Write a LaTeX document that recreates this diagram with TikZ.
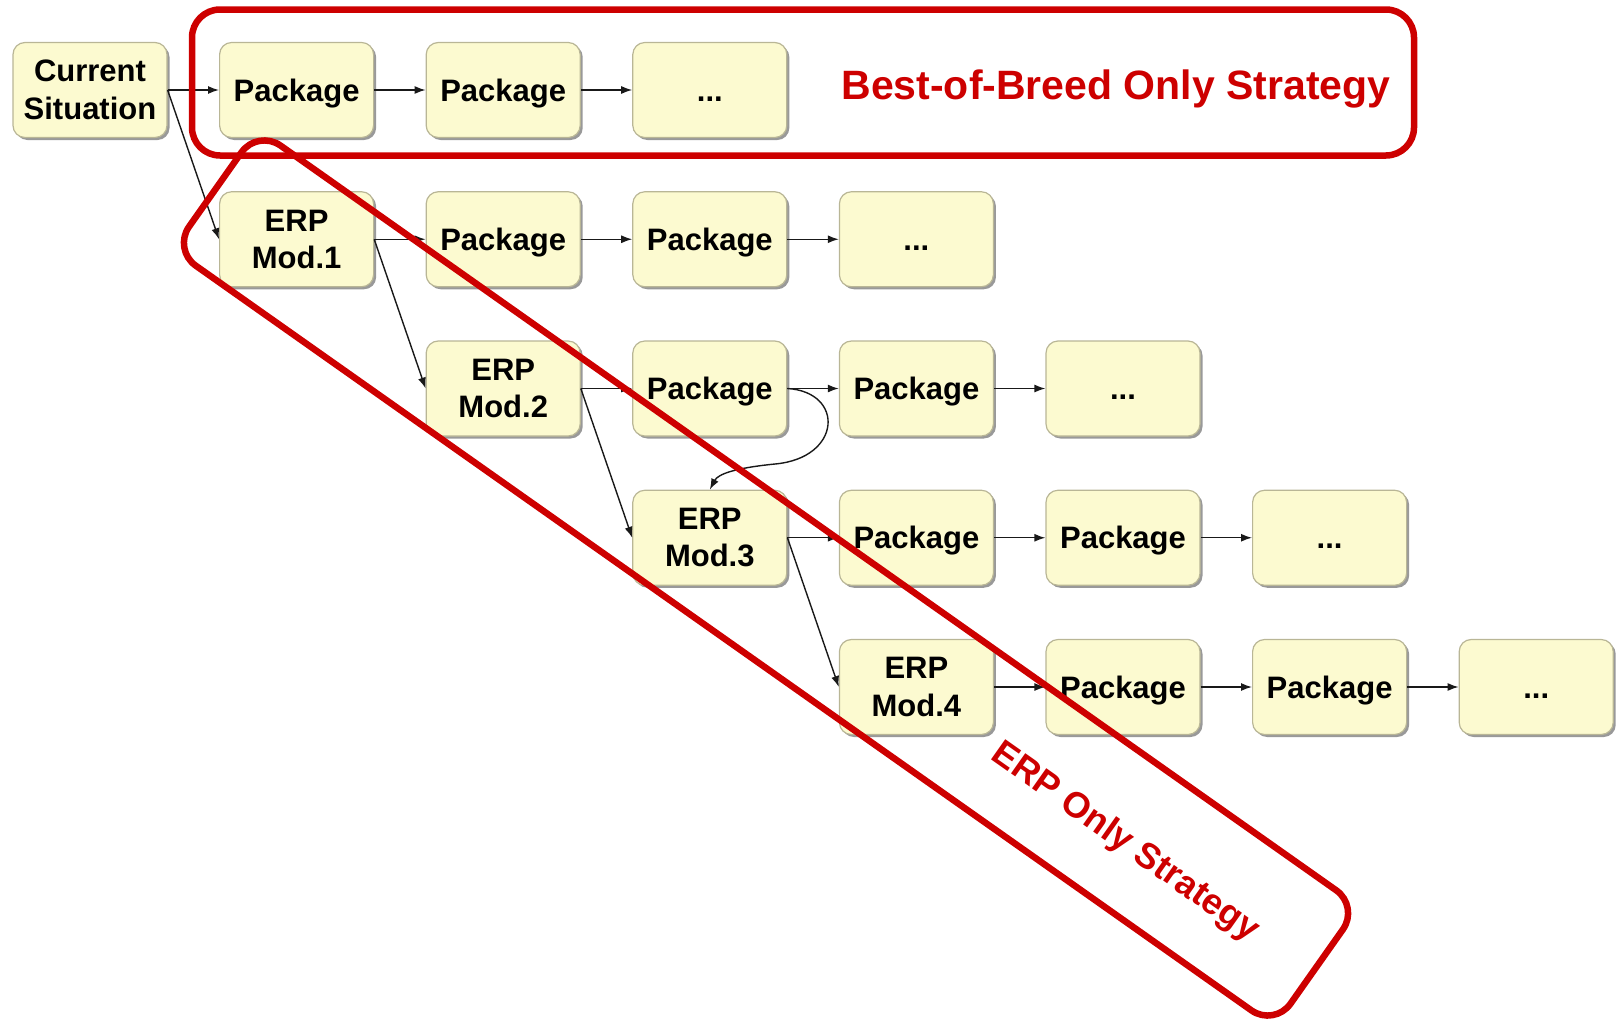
\documentclass[tikz,border=0pt]{standalone}
\usepackage{fontspec}
\setmainfont{Liberation Sans}
\usetikzlibrary{arrows.meta,shadows}
\definecolor{boxfill}{RGB}{252,250,208}
\definecolor{boxline}{RGB}{185,182,150}
\definecolor{stratred}{RGB}{205,0,0}
\begin{document}
\begin{tikzpicture}[x=1pt,y=-1pt,
  box/.style={draw=boxline, line width=1.2pt, fill=boxfill, rounded corners=12pt,
    minimum width=154pt, minimum height=95pt, inner sep=0pt,
    font=\bfseries\fontsize{31}{37.5}\selectfont,
    drop shadow={shadow xshift=2.5pt, shadow yshift=-2.5pt, opacity=0.4, fill=black}},
  one/.style={box, text height=28pt, text depth=6pt},
  two/.style={box, align=center},
  arr/.style={draw=black!90, line width=1.4pt, -{Latex[length=11pt,width=8pt]}},
  strat/.style={draw=stratred, line width=6.5pt, rounded corners=28pt, inner sep=0pt},
  stratlabel/.style={text=stratred, inner sep=0pt}]
\useasboundingbox (0,0) rectangle (1619,1020);

% row 0
\node[two] (cur) at (90,90) {Current\\Situation};
\node[one] (p01) at (296.6,90) {Package};
\node[one] (p02) at (503.2,90) {Package};
\node[one] (d03) at (709.8,90) {...};
% row 1
\node[two] (e1) at (296.6,239.25) {ERP\\Mod.1};
\node[one] (p12) at (503.2,239.25) {Package};
\node[one] (p13) at (709.8,239.25) {Package};
\node[one] (d14) at (916.4,239.25) {...};
% row 2
\node[two] (e2) at (503.2,388.5) {ERP\\Mod.2};
\node[one] (p23) at (709.8,388.5) {Package};
\node[one] (p24) at (916.4,388.5) {Package};
\node[one] (d25) at (1123,388.5) {...};
% row 3
\node[two] (e3) at (709.8,537.75) {ERP\\Mod.3};
\node[one] (p34) at (916.4,537.75) {Package};
\node[one] (p35) at (1123,537.75) {Package};
\node[one] (d36) at (1329.6,537.75) {...};
% row 4
\node[two] (e4) at (916.4,687) {ERP\\Mod.4};
\node[one] (p45) at (1123,687) {Package};
\node[one] (p46) at (1329.6,687) {Package};
\node[one] (d47) at (1536.2,687) {...};

% arrows
\draw[arr] (cur.east) -- (p01.west);
\draw[arr] (p01.east) -- (p02.west);
\draw[arr] (p02.east) -- (d03.west);
\draw[arr] (cur.east) -- (e1.west);

\draw[arr] (e1.east) -- (p12.west);
\draw[arr] (p12.east) -- (p13.west);
\draw[arr] (p13.east) -- (d14.west);
\draw[arr] (e1.east) -- (e2.west);

\draw[arr] (e2.east) -- (p23.west);
\draw[arr] (p23.east) -- (p24.west);
\draw[arr] (p24.east) -- (d25.west);
\draw[arr] (e2.east) -- (e3.west);
\draw[arr] (p23.east) .. controls (845,392) and (842,458) .. (775,464)
                      .. controls (735,468) and (718,474) .. (e3.north);

\draw[arr] (e3.east) -- (p34.west);
\draw[arr] (p34.east) -- (p35.west);
\draw[arr] (p35.east) -- (d36.west);
\draw[arr] (e3.east) -- (e4.west);

\draw[arr] (e4.east) -- (p45.west);
\draw[arr] (p45.east) -- (p46.west);
\draw[arr] (p46.east) -- (d47.west);

% strategy frames
\node[strat, minimum width=1222pt, minimum height=146pt] (bobbox) at (803,82.5) {};
\node[strat, minimum width=1348pt, minimum height=147pt, rotate=-35.2] (erpbox) at (766,578) {};
\node[stratlabel, anchor=base, font=\bfseries\fontsize{41}{48}\selectfont] (boblabel) at (1116,99) {Best-of-Breed Only Strategy};
\node[stratlabel, rotate=-35.2, font=\bfseries\fontsize{36}{43}\selectfont] (erplabel) at (1125,843) {ERP Only Strategy};
\end{tikzpicture}
\end{document}
